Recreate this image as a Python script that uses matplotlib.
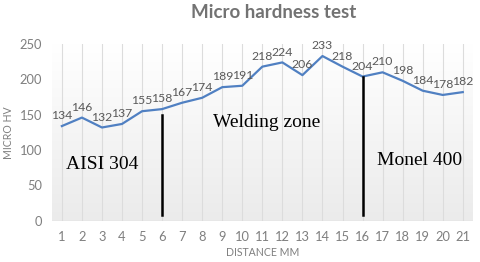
import numpy as np
import matplotlib
matplotlib.use('Agg')
import matplotlib.pyplot as plt

# data
distance = list(range(1, 22))
hardness = [134, 146, 132, 137, 155, 158, 167, 174, 189, 191, 218,
            224, 206, 233, 218, 204, 210, 198, 184, 178, 182]
zone_lines = [(6, 8, 150), (16, 8, 204)]
zone_labels = [(1.2, 79, 'AISI 304'), (8.55, 139, 'Welding zone'), (16.7, 85, 'Monel 400')]

gray = '#7f7f7f'
sans = ['Lato', 'DejaVu Sans']
serif = ['Liberation Serif', 'DejaVu Serif']

fig = plt.figure(figsize=(4.8, 2.62), dpi=100)
ax = fig.add_axes([0.108, 0.157, 0.877, 0.675])

# soft gradient in the plot area, grey at the bottom fading to white
grad = np.linspace(0, 1, 256).reshape(-1, 1)
cmap = matplotlib.colors.LinearSegmentedColormap.from_list('g', ['#ebebeb', '#ffffff'])
ax.imshow(grad, extent=(0.5, 21.5, 0, 250), origin='lower', aspect='auto',
          cmap=cmap, zorder=0)

for x in distance:
    ax.axvline(x, color='#dcdcdc', lw=0.8, zorder=1)
ax.axhline(0, color='#d9d9d9', lw=1, zorder=1)

ax.plot(distance, hardness, color='#5080c2', lw=1.6, zorder=3)

for x, y in zip(distance, hardness):
    ax.annotate(str(y), (x, y), xytext=(0, 3.5), textcoords='offset points',
                ha='center', va='bottom', fontsize=8.8, color='#595959', family=sans)

for x, y0, y1 in zone_lines:
    ax.plot([x, x], [y0, y1], color='black', lw=1.8, zorder=4)

for x, y, t in zone_labels:
    ax.text(x, y, t, fontsize=14, family=serif, color='black', va='center', zorder=5)

ax.set_xlim(0.5, 21.5)
ax.set_ylim(0, 250)
ax.set_xticks(distance)
ax.set_yticks([0, 50, 100, 150, 200, 250])
ax.tick_params(length=0, colors=gray, labelsize=9.3, pad=7)
for lab in ax.get_xticklabels() + ax.get_yticklabels():
    lab.set_family(sans)
for s in ax.spines.values():
    s.set_visible(False)

ax.set_ylabel('MICRO HV', fontsize=7.6, color=gray, family=sans, labelpad=4)
ax.set_xlabel('DISTANCE MM', fontsize=7.6, color=gray, family=sans, labelpad=3)
fig.text(0.57, 0.952, 'Micro hardness test', ha='center', va='center',
         fontsize=13.5, fontweight='bold', color='#737373', family=sans)

fig.savefig('out.png', dpi=100)
